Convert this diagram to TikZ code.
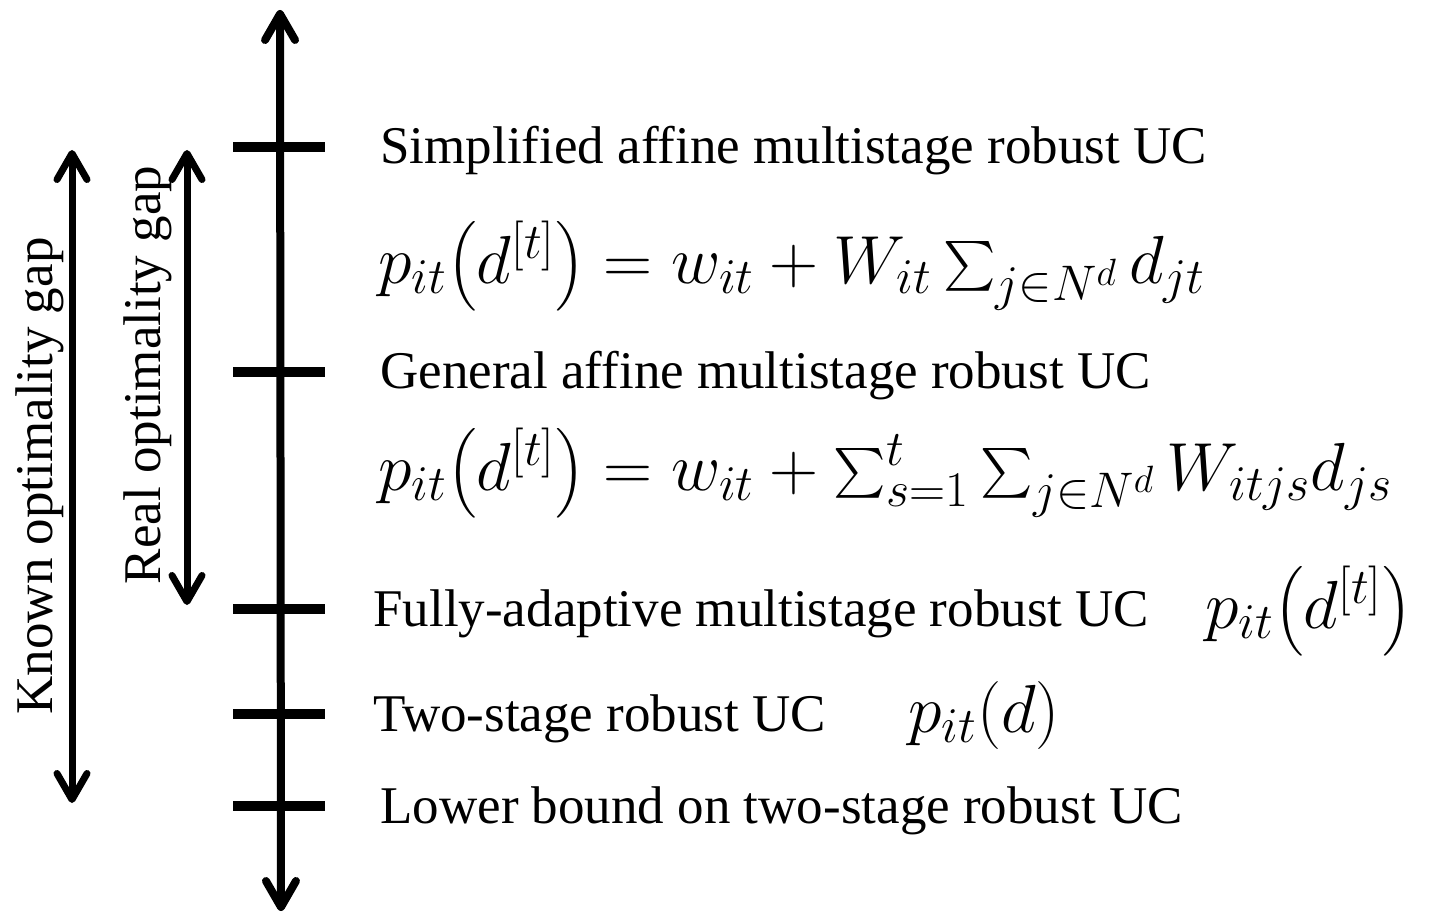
\RequirePackage{fix-cm}
\documentclass[tikz,border=0pt]{standalone}
\usepackage{amsmath}
\usepackage{fontspec}
\setmainfont{Liberation Serif}
\usetikzlibrary{arrows.meta}
\DeclareMathSizes{34}{34}{25}{19}

\tikzset{
  dbarb/.style={{Straight Barb[length=13pt,width=15pt,line cap=round,line join=round]}-{Straight Barb[length=13pt,width=15pt,line cap=round,line join=round]}},
  axisline/.style={line width=4pt,dbarb},
  gapline/.style={line width=3.5pt,dbarb},
  tickmark/.style={line width=5pt},
  lbl/.style={inner sep=0pt,anchor=base west,font=\fontsize{26.5}{30}\selectfont},
  eqn/.style={inner sep=0pt,anchor=base west,font=\fontsize{34}{38}\selectfont},
  vlbl/.style={inner sep=0pt,anchor=base,rotate=90,font=\fontsize{26.5}{30}\selectfont}
}

\begin{document}
\begin{tikzpicture}[x=0.5pt,y=-0.5pt]
  \useasboundingbox (0,0) rectangle (1451,915);

  % main scale
  \coordinate (top) at (280,10);
  \coordinate (bot) at (281,911);
  \draw[axisline] (bot) -- (top);

  % levels on the scale
  \foreach \n/\y in {1/147,2/372,3/609,4/714,5/806}{
    \coordinate (L\n) at (233,\y);
    \coordinate (R\n) at (325,\y);
    \draw[tickmark] (L\n) -- (R\n);
  }

  % optimality gap arrows
  \coordinate (kt) at (72,150);
  \coordinate (kb) at (72,803);
  \draw[gapline] (kb) -- (kt);
  \coordinate (rt) at (187,150);
  \coordinate (rb) at (187,605);
  \draw[gapline] (rb) -- (rt);

  \node[vlbl] (known) at (52,476) {Known optimality gap};
  \node[vlbl] (real) at (160,375) {Real optimality gap};

  % level descriptions
  \node[lbl] (simp) at (380,163) {Simplified affine multistage robust UC};
  \node[eqn] (eq1) at (378,283)
    {$p_{it}\bigl(d^{[t]}\bigr)=w_{it}+W_{it}\textstyle\sum_{j\in N^d} d_{jt}$};
  \node[lbl] (gen) at (380,388) {General affine multistage robust UC};
  \node[eqn] (eq2) at (378,490)
    {$p_{it}\bigl(d^{[t]}\bigr)=w_{it}+\textstyle\sum_{s=1}^{t}\sum_{j\in N^d} W_{itjs}d_{js}$};
  \node[lbl] (full) at (373,626) {Fully-adaptive multistage robust UC};
  \node[eqn] (eq3) at (1205,628) {$p_{it}\bigl(d^{[t]}\bigr)$};
  \node[lbl] (two) at (373,731) {Two-stage robust UC};
  \node[eqn] (eq4) at (908,732) {$p_{it}(d)$};
  \node[lbl] (low) at (380,823) {Lower bound on two-stage robust UC};
\end{tikzpicture}
\end{document}
